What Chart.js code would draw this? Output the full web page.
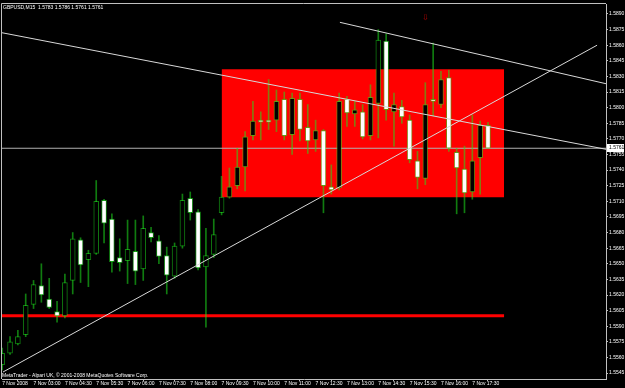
<!DOCTYPE html>
<html><head><meta charset="utf-8">
<script src="https://cdn.jsdelivr.net/npm/chart.js@4.4.1/dist/chart.umd.min.js"></script>
<style>html,body{margin:0;padding:0;background:#000;overflow:hidden}#wrap{width:625px;height:388px;position:relative}</style>
</head><body><div id="wrap"><canvas id="c" width="625" height="388"></canvas></div>
<script>
// ---------- data ----------
const symbolTitle = 'GBPUSD,M15  1.5783 1.5786 1.5761 1.5761';
const footerText = 'MetaTrader - Alpari UK, \u00A9 2001-2008 MetaQuotes Software Corp.';
const timeLabels = ['7 Nov 2008','7 Nov 03:00','7 Nov 04:30','7 Nov 05:30','7 Nov 06:00','7 Nov 07:30','7 Nov 08:00','7 Nov 09:30','7 Nov 10:00','7 Nov 11:00','7 Nov 12:30','7 Nov 13:00','7 Nov 14:30','7 Nov 15:30','7 Nov 16:00','7 Nov 17:30'];
const timeTickBars = [0,4,8,12,16,20,24,28,32,36,40,44,48,52,56,60];
const priceTicks = [1.5545,1.5560,1.5575,1.5590,1.5605,1.5620,1.5635,1.5650,1.5665,1.5680,1.5695,1.5710,1.5725,1.5740,1.5755,1.5770,1.5785,1.5800,1.5815,1.5830,1.5845,1.5860,1.5875,1.5890];

const opens  = [1.5553,1.5564,1.5573,1.5582,1.5611,1.5629,1.5616,1.5604,1.5600,1.5634,1.5673,1.5654,1.5660,1.5711,1.5693,1.5656,1.5653,1.5662,1.5645,1.5680,1.5672,1.5658,1.5638,1.5667,1.5713,1.5700,1.5647,1.5659,1.5699,1.5714,1.5725,1.5743,1.5773,1.5788,1.5788,1.5788,1.5808,1.5774,1.5808,1.5781,1.5769,1.5778,1.5724,1.5723,1.5808,1.5794,1.5796,1.5773,1.5804,1.5864,1.5796,1.5801,1.5788,1.5749,1.5732,1.5808,1.5803,1.5829,1.5757,1.5741,1.5719,1.5752,1.5783];
const highs  = [1.5569,1.5580,1.5586,1.5621,1.5634,1.5650,1.5636,1.5614,1.5640,1.5680,1.5675,1.5663,1.5730,1.5712,1.5698,1.5674,1.5692,1.5692,1.5696,1.5685,1.5677,1.5666,1.5670,1.5717,1.5719,1.5702,1.5684,1.5693,1.5734,1.5742,1.5761,1.5777,1.5806,1.5796,1.5827,1.5817,1.5815,1.5814,1.5814,1.5803,1.5788,1.5779,1.5745,1.5814,1.5811,1.5806,1.5803,1.5822,1.5875,1.5871,1.5814,1.5807,1.5793,1.5758,1.5824,1.5862,1.5835,1.5836,1.5761,1.5763,1.5793,1.5787,1.5786];
const lows   = [1.5548,1.5563,1.5572,1.5580,1.5607,1.5613,1.5607,1.5594,1.5598,1.5621,1.5632,1.5628,1.5659,1.5670,1.5642,1.5643,1.5631,1.5630,1.5634,1.5671,1.5650,1.5621,1.5636,1.5665,1.5692,1.5644,1.5589,1.5656,1.5697,1.5713,1.5722,1.5720,1.5769,1.5769,1.5779,1.5777,1.5769,1.5755,1.5768,1.5756,1.5758,1.5699,1.5717,1.5721,1.5782,1.5782,1.5770,1.5769,1.5771,1.5788,1.5763,1.5785,1.5747,1.5722,1.5726,1.5792,1.5800,1.5758,1.5698,1.5699,1.5712,1.5717,1.5761];
const closes = [1.5564,1.5575,1.5580,1.5610,1.5630,1.5620,1.5608,1.5600,1.5632,1.5674,1.5649,1.5660,1.5710,1.5689,1.5652,1.5651,1.5664,1.5643,1.5684,1.5675,1.5657,1.5639,1.5667,1.5711,1.5699,1.5646,1.5658,1.5678,1.5714,1.5724,1.5743,1.5772,1.5787,1.5786,1.5786,1.5806,1.5773,1.5809,1.5779,1.5768,1.5778,1.5725,1.5721,1.5806,1.5795,1.5798,1.5772,1.5810,1.5865,1.5798,1.5803,1.5791,1.5750,1.5733,1.5803,1.5806,1.5827,1.5761,1.5742,1.5718,1.5749,1.5783,1.5761];

// drawn objects (bar index, price)
const boxBars = [28, 64.05];
const boxPrices = [1.5837, 1.5714];
const supportBars = [-0.03, 64.05];
const supportPrice = 1.5600;
const trend1Bars = [-0.03, 77.06];   const trend1Prices = [1.5872, 1.5760];
const trend2Bars = [43.1, 77.06];    const trend2Prices = [1.5882, 1.5823];
const trend3Bars = [0.1, 75.92];     const trend3Prices = [1.5546, 1.5860];
const arrowMark = [54, 1.5886];
const barRange = [-0.0255, 77.06];
const priceRange = [1.55393, 1.58996];

// ---------- chart ----------
const FONT = {family: "'Liberation Sans', Arial, sans-serif", size: 5};
const candleLine = 'rgba(30,225,30,0.55)';
const bars = opens.map((_, i) => i);
const lastPrice = closes[closes.length - 1];

const lineDS = (xs, ys, color, width, order) => ({
  type: 'line', data: xs.map((x, i) => ({x, y: ys[i]})), borderColor: color, borderWidth: width,
  pointRadius: 0, fill: false, tension: 0, order
});

const mtPlugin = {
  id: 'mt',
  beforeDraw(chart) {
    const c = chart.ctx; c.save(); c.fillStyle = '#000'; c.fillRect(0, 0, chart.width, chart.height); c.restore();
  },
  afterDraw(chart) {
    const {ctx, chartArea: a, scales: {x, y}} = chart;
    ctx.save();
    ctx.strokeStyle = '#c0c0c0'; ctx.lineWidth = 1;
    ctx.beginPath(); ctx.moveTo(a.left - 0.5, a.bottom); ctx.lineTo(a.left - 0.5, a.top - 0.5); ctx.lineTo(a.right, a.top - 0.5); ctx.stroke();
    ctx.font = FONT.size + 'px ' + FONT.family; ctx.fillStyle = '#fff';
    ctx.textBaseline = 'top'; ctx.textAlign = 'left';
    ctx.fillText(symbolTitle, a.left + 1, a.top + 1);
    ctx.textBaseline = 'bottom';
    ctx.fillText(footerText, a.left, a.bottom - 1);
    // arrow mark
    ctx.fillStyle = '#b00000'; ctx.font = '8px "DejaVu Sans"'; ctx.textAlign = 'center'; ctx.textBaseline = 'middle';
    ctx.fillText('\u21E9', x.getPixelForValue(arrowMark[0]), y.getPixelForValue(arrowMark[1]));
    // last price label
    const py = y.getPixelForValue(lastPrice);
    ctx.fillStyle = '#fff'; ctx.fillRect(a.right + 1, Math.round(py) - 4, 17, 8);
    ctx.fillStyle = '#000'; ctx.font = FONT.size + 'px ' + FONT.family; ctx.textAlign = 'left';
    ctx.fillText(lastPrice.toFixed(4), a.right + 3, Math.round(py));
    ctx.restore();
  }
};

new Chart(document.getElementById('c'), {
  type: 'bar',
  data: {
    datasets: [
      {type: 'line', data: [{x: boxBars[0], y: boxPrices[0]}, {x: boxBars[1], y: boxPrices[0]}],
       fill: {value: boxPrices[1]}, backgroundColor: '#ff0000', borderWidth: 0, pointRadius: 0, order: 10},
      lineDS(supportBars, supportBars.map(() => supportPrice), '#ff0000', 3, 9),
      lineDS(barRange, [lastPrice, lastPrice], '#b0b0b0', 1, 8),
      {label: 'wicks', data: bars.map(i => ({x: i, y: [lows[i], highs[i]]})), backgroundColor: candleLine,
       barThickness: 1, grouped: false, order: 3},
      {label: 'bodies', data: bars.map(i => ({x: i, y: [opens[i], closes[i]]})),
       backgroundColor: bars.map(i => closes[i] >= opens[i] ? '#000000' : '#ffffff'),
       borderColor: candleLine, borderWidth: 1, borderSkipped: false, barThickness: 5, grouped: false, order: 2},
      lineDS(trend1Bars, trend1Prices, '#d8d8d8', 1, 0),
      lineDS(trend2Bars, trend2Prices, '#d8d8d8', 1, 0),
      lineDS(trend3Bars, trend3Prices, '#d8d8d8', 1, 0)
    ]
  },
  options: {
    responsive: false, animation: false, devicePixelRatio: 1, events: [],
    layout: {padding: {left: 2, top: 2, right: 0, bottom: 0}},
    plugins: {legend: {display: false}, tooltip: {enabled: false}, title: {display: false}},
    scales: {
      x: {
        type: 'linear', min: barRange[0], max: barRange[1], offset: false,
        afterBuildTicks: s => { s.ticks = timeTickBars.map(v => ({value: v})); },
        afterFit: s => { s.height = 9; },
        ticks: {callback: (v, i) => timeLabels[i], align: 'start', maxRotation: 0, minRotation: 0, autoSkip: false,
                color: '#ffffff', font: FONT, padding: 0},
        grid: {drawOnChartArea: false, drawTicks: true, tickLength: 2, color: '#c0c0c0'},
        border: {color: '#c0c0c0', width: 1}
      },
      y: {
        type: 'linear', position: 'right', min: priceRange[0], max: priceRange[1],
        afterBuildTicks: s => { s.ticks = priceTicks.map(v => ({value: v})); },
        afterFit: s => { s.width = 19; },
        ticks: {callback: v => v.toFixed(4), color: '#ffffff', font: FONT, padding: 1, autoSkip: false},
        grid: {drawOnChartArea: false, drawTicks: true, tickLength: 2, color: '#c0c0c0'},
        border: {color: '#c0c0c0', width: 1}
      }
    }
  },
  plugins: [mtPlugin]
});
</script></body></html>
